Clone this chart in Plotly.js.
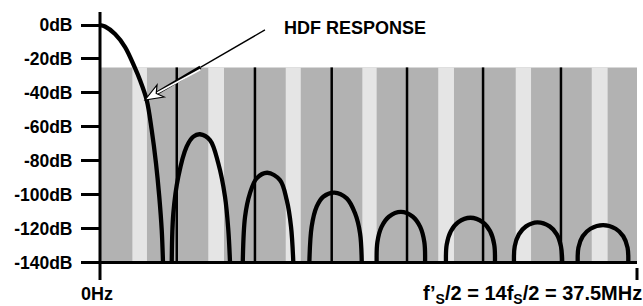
<!DOCTYPE html>
<html>
<head>
<meta charset="utf-8">
<script src="https://cdn.plot.ly/plotly-3.0.1.min.js"></script>
<style>html,body{margin:0;padding:0;background:#fff;}#chart{width:643px;height:306px;}</style>
</head>
<body>
<div id="chart"></div>
<script>
// ---- data (MHz, dB) ----
const mainLobeF  = [0, 0.35, 1.05, 1.75, 2.44, 2.79, 3.26, 3.61, 3.91, 4.14, 4.31, 4.40];
const mainLobeDb = [0, -0.9, -5.3, -13.0, -25.3, -32.4, -44.2, -61.9, -81.5, -101.2, -120.8, -140];

const lobe1F  = [5.01, 5.12, 5.47, 6.05, 6.52, 6.98, 7.68, 8.26, 8.73, 8.96, 9.08];
const lobe1Db = [-140, -111.0, -89.4, -71.7, -65.8, -64.4, -67.8, -81.5, -101.2, -120.8, -140];

const lobe2F  = [9.97, 10.13, 10.47, 10.94, 11.68, 12.57, 13.04, 13.34, 13.50];
const lobe2Db = [-140, -113.0, -99.2, -90.4, -87.1, -91.4, -103.2, -118.9, -140];

const lobe3F  = [14.62, 14.78, 15.13, 15.59, 16.36, 17.23, 17.81, 18.16, 18.28];
const lobe3Db = [-140, -118.9, -107.1, -101.2, -98.8, -102.2, -111.0, -122.8, -140];

const lobe4F  = [19.32, 19.37, 19.66, 20.17, 21.01, 21.85, 22.36, 22.65, 22.70];
const lobe4Db = [-140, -128.0, -119.0, -113.0, -110.1, -113.0, -119.0, -128.0, -140];

const lobe5F  = [24.16, 24.21, 24.50, 25.01, 25.87, 26.73, 27.24, 27.53, 27.58];
const lobe5Db = [-140, -129.4, -121.5, -116.2, -113.6, -116.2, -121.5, -129.4, -140];

const lobe6F  = [28.91, 28.96, 29.25, 29.75, 30.54, 31.40, 31.90, 32.19, 32.28];
const lobe6Db = [-140, -130.5, -123.4, -118.7, -116.3, -118.7, -123.4, -130.5, -140];

const lobe7F  = [33.36, 33.41, 33.71, 34.25, 35.13, 36.01, 36.54, 36.84, 36.89];
const lobe7Db = [-140, -131.2, -124.5, -120.1, -117.9, -120.1, -124.5, -131.2, -140];

// vertical black lines (multiples of fS)
const markerLinesF = [5.36, 10.82, 16.18, 21.44, 26.75, 32.19];

// light gray bands (start, end MHz)
const lightBandStart = [2.26, 7.56, 12.97, 18.32, 23.62, 29.03, 34.34];
const lightBandEnd   = [3.28, 8.66, 14.02, 19.32, 24.72, 30.10, 35.45];

// shaded region
const shadeTopDb = -25;
const floorDb = -140;
const fMax = 37.5;

// axis ticks and texts
const yTickVals = [0, -20, -40, -60, -80, -100, -120, -140];
const yTickText = ['0dB', '-20dB', '-40dB', '-60dB', '-80dB', '-100dB', '-120dB', '-140dB'];
const xLabelLeft = '0Hz';
const xLabelRight = 'f’<sub>S</sub>/2 = 14f<sub>S</sub>/2 = 37.5MHz';
const curveLabel = 'HDF RESPONSE';

// annotation arrow geometry (MHz, dB): tail, entry into shaded band, head
const arrowTail  = [11.52, -2.9];
const arrowEntry = [7.01, -25];
const arrowTip   = [3.142, -44.21];
const arrowBarb1 = [3.982, -35.30];
const arrowNotch = [3.927, -40.35];
const arrowBarb2 = [4.475, -42.43];

// ---- build traces ----
const lobes = [[mainLobeF, mainLobeDb], [lobe1F, lobe1Db], [lobe2F, lobe2Db], [lobe3F, lobe3Db],
               [lobe4F, lobe4Db], [lobe5F, lobe5Db], [lobe6F, lobe6Db], [lobe7F, lobe7Db]];
const cx = [], cy = [];
lobes.forEach(([f, d], i) => {
  if (i > 0) { cx.push(null); cy.push(null); }
  f.forEach((v, j) => { cx.push(v); cy.push(d[j]); });
});

const vx = [], vy = [];
markerLinesF.forEach(f => { vx.push(f, f, null); vy.push(shadeTopDb, floorDb, null); });

const FONT = 'Liberation Sans, Arial, sans-serif';

const traces = [
  { type: 'scatter', mode: 'lines', x: vx, y: vy, line: { color: '#000', width: 2.5 }, hoverinfo: 'skip', connectgaps: false },
  { type: 'scatter', mode: 'lines', x: cx, y: cy, line: { color: '#000', width: 4.3, shape: 'spline', smoothing: 1 }, connectgaps: false, hoverinfo: 'skip' }
];

const shapes = [];
shapes.push({ type: 'rect', xref: 'x', yref: 'y', x0: 0, x1: fMax, y0: floorDb, y1: shadeTopDb, fillcolor: '#b2b2b2', line: { width: 0 }, layer: 'below' });
lightBandStart.forEach((s, i) => {
  shapes.push({ type: 'rect', xref: 'x', yref: 'y', x0: s, x1: lightBandEnd[i], y0: floorDb, y1: shadeTopDb, fillcolor: '#e5e5e5', line: { width: 0 }, layer: 'below' });
});
// axis lines
shapes.push({ type: 'line', xref: 'paper', yref: 'paper', x0: 0, x1: 0, y0: 0, y1: 1, line: { color: '#000', width: 3 }, layer: 'above' });
shapes.push({ type: 'line', xref: 'paper', yref: 'y', x0: 0, x1: 1, y0: floorDb, y1: floorDb, line: { color: '#000', width: 3 }, layer: 'above' });
shapes.push({ type: 'line', xref: 'paper', yref: 'paper', x0: 1, x1: 1, y0: 0, y1: 0.0448, line: { color: '#000', width: 3 }, layer: 'above' });
// "HDF RESPONSE" pointer arrow
shapes.push({ type: 'line', xref: 'x', yref: 'y', x0: arrowTail[0], y0: arrowTail[1], x1: arrowEntry[0], y1: arrowEntry[1], line: { color: '#000', width: 1.3 }, layer: 'above' });
shapes.push({ type: 'line', xref: 'x', yref: 'y', x0: arrowEntry[0], y0: arrowEntry[1], x1: arrowNotch[0], y1: arrowNotch[1], line: { color: '#000', width: 3.6 }, layer: 'above' });
shapes.push({ type: 'line', xref: 'x', yref: 'y', x0: arrowEntry[0], y0: arrowEntry[1] - 1.2, x1: arrowNotch[0], y1: arrowNotch[1], line: { color: '#fff', width: 1.8 }, layer: 'above' });
shapes.push({ type: 'path', xref: 'x', yref: 'y',
  path: 'M' + arrowTip.join(',') + ' L' + arrowBarb1.join(',') + ' L' + arrowNotch.join(',') + ' L' + arrowBarb2.join(',') + ' Z',
  fillcolor: '#fff', line: { color: '#000', width: 1.2 }, layer: 'above' });

const annotations = [
  { text: '<b>' + curveLabel + '</b>', xref: 'x', yref: 'y', x: 12.69, y: -1.95, xanchor: 'left', yanchor: 'middle', showarrow: false, font: { family: FONT, size: 18, color: '#000' } },
  { text: '<b>' + xLabelLeft + '</b>', xref: 'x', yref: 'paper', x: 0, y: 0, xanchor: 'center', yanchor: 'top', xshift: -3, yshift: -2, showarrow: false, font: { family: FONT, size: 18, color: '#000' } },
  { text: '<b>' + xLabelRight + '</b>', xref: 'paper', yref: 'paper', x: 1, y: 0, xanchor: 'right', yanchor: 'top', xshift: 7, yshift: 0, showarrow: false, font: { family: FONT, size: 20, color: '#000' } }
];

const layout = {
  width: 643, height: 306,
  margin: { l: 100, r: 6, t: 12, b: 26, pad: 0 },
  paper_bgcolor: '#fff', plot_bgcolor: '#fff',
  showlegend: false,
  xaxis: { range: [0, fMax], showgrid: false, zeroline: false, showline: false, showticklabels: false, ticks: '', fixedrange: true },
  yaxis: { range: [-150.3, 7.66], showgrid: false, zeroline: false, showline: false,
           tickvals: yTickVals, ticktext: yTickText, ticks: 'outside', ticklen: 18, tickwidth: 3, tickcolor: '#000',
           ticklabelstandoff: 5,
           tickfont: { family: FONT, size: 17.5, color: '#000', weight: 'bold' }, fixedrange: true },
  shapes: shapes,
  annotations: annotations
};

Plotly.newPlot('chart', traces, layout, { staticPlot: true, displayModeBar: false });
</script>
</body>
</html>
